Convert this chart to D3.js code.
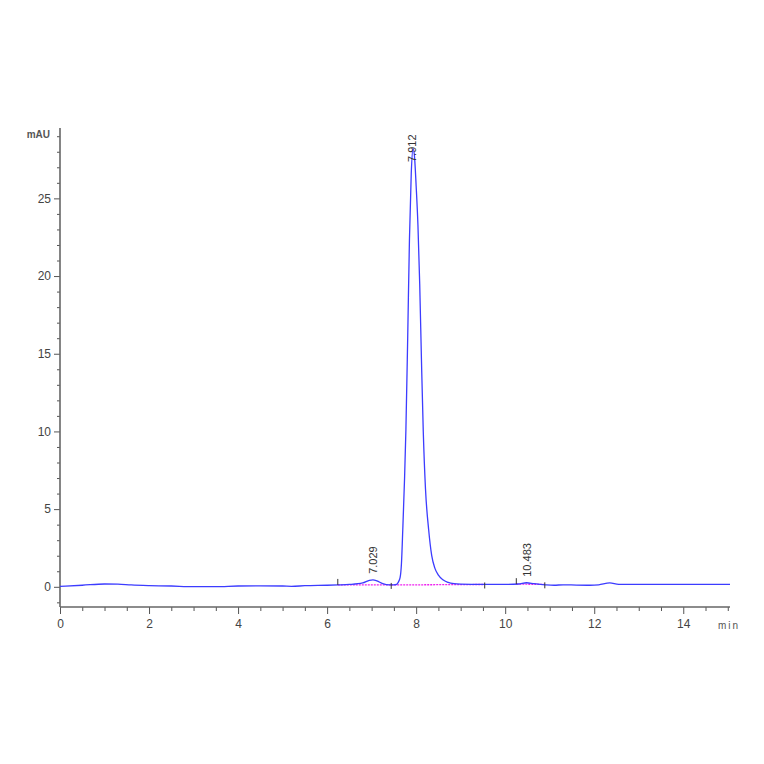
<!DOCTYPE html>
<html>
<head>
<meta charset="utf-8">
<script src="https://cdn.jsdelivr.net/npm/d3@7"></script>
<style>
  body { margin: 0; background: #fff; }
  .axis path, .axis line { stroke: #555; }
  .axis text { font-family: "Liberation Sans Narrow", "Liberation Sans", Arial, sans-serif; font-size: 12px; fill: #444; }
</style>
</head>
<body>
<div id="chart"></div>
<script>
// trace (min, mAU)
var times = [0, 0.5, 1.0, 1.3, 1.6, 2.0, 2.5, 3.0, 3.5, 4.0, 4.5, 5.0, 5.2, 5.5, 6.0, 6.25,
  6.5, 6.8, 6.95, 7.03, 7.12, 7.25, 7.4, 7.5, 7.56, 7.6, 7.64, 7.67, 7.70, 7.74, 7.77,
  7.81, 7.85, 7.89, 7.93, 7.96, 8.0, 8.04, 8.08, 8.12, 8.16, 8.21, 8.28, 8.35, 8.42,
  8.5, 8.6, 8.72, 8.85, 9.0, 9.5, 10.0, 10.3, 10.48, 10.65, 10.9, 11.1, 11.3, 11.6, 11.9,
  12.1, 12.35, 12.55, 12.8, 13.5, 14.0, 15.05];
var signal = [0.03, 0.1, 0.18, 0.17, 0.12, 0.08, 0.05, 0.01, 0.01, 0.05, 0.06, 0.05, 0.03, 0.07, 0.1, 0.12,
  0.15, 0.25, 0.42, 0.45, 0.38, 0.2, 0.12, 0.12, 0.15, 0.3, 0.6, 1.5, 3.7, 7.0, 10.1,
  16.0, 22.4, 26.6, 28.2, 27.8, 25.8, 23.3, 19.5, 14.5, 10.0, 6.3, 3.7, 2.0, 1.2,
  0.75, 0.45, 0.28, 0.2, 0.17, 0.15, 0.15, 0.18, 0.26, 0.2, 0.13, 0.1, 0.13, 0.11, 0.1,
  0.13, 0.25, 0.15, 0.15, 0.15, 0.15, 0.15];

var peakTimes = [7.029, 7.912, 10.483];
var peakLabels = ["7.029", "7.912", "10.483"];
var peakHeights = [0.45, 28.2, 0.26];

// integration baselines: start, end, level at start, level at end
var baseStart = [6.24, 7.44, 10.25];
var baseEnd = [7.44, 9.54, 10.89];
var baseFrom = [0.12, 0.12, 0.17];
var baseTo = [0.12, 0.15, 0.16];

var xMajor = [0, 2, 4, 6, 8, 10, 12, 14];
var yMajor = [0, 5, 10, 15, 20, 25];

var width = 764, height = 764;

var svg = d3.select("#chart")
  .append("svg")
  .attr("width", width)
  .attr("height", height);

var x = d3.scaleLinear().domain([0, 15.05]).range([60, 730]);
var y = d3.scaleLinear().domain([-1.3, 29.4]).range([607, 130]);

// minor ticks
var xMinor = d3.range(0, 15.01, 0.5).filter(function(d) { return xMajor.indexOf(d) < 0; });
var yMinor = d3.range(-1, 30, 1).filter(function(d) { return yMajor.indexOf(d) < 0; });

svg.append("g")
  .attr("class", "axis")
  .attr("transform", "translate(0,607)")
  .call(d3.axisBottom(x).tickValues(xMinor).tickSize(4).tickFormat(""))
  .call(function(g) { g.select(".domain").remove(); });

svg.append("g")
  .attr("class", "axis")
  .attr("transform", "translate(0,607)")
  .call(d3.axisBottom(x).tickValues(xMajor).tickSize(7).tickPadding(5).tickFormat(d3.format("d")))
  .call(function(g) { g.select(".domain").remove(); });

svg.append("g")
  .attr("class", "axis")
  .attr("transform", "translate(60,0)")
  .call(d3.axisLeft(y).tickValues(yMinor).tickSize(3).tickFormat(""))
  .call(function(g) { g.select(".domain").remove(); });

svg.append("g")
  .attr("class", "axis")
  .attr("transform", "translate(60,0)")
  .call(d3.axisLeft(y).tickValues(yMajor).tickSize(6).tickPadding(3).tickFormat(d3.format("d")))
  .call(function(g) { g.select(".domain").remove(); });

// axis lines
svg.append("line")
  .attr("x1", 60).attr("x2", 730)
  .attr("y1", 607).attr("y2", 607)
  .attr("stroke", "#666").attr("stroke-width", 1.6);
svg.append("line")
  .attr("x1", 60).attr("x2", 60)
  .attr("y1", 128).attr("y2", 607)
  .attr("stroke", "#666").attr("stroke-width", 1.6);

svg.append("text")
  .attr("x", 50).attr("y", 138)
  .attr("text-anchor", "end")
  .attr("font-family", "Liberation Sans Narrow, Liberation Sans, Arial, sans-serif")
  .attr("font-size", 10)
  .attr("font-weight", "bold")
  .attr("fill", "#555")
  .text("mAU");

svg.append("text")
  .attr("x", 718).attr("y", 629)
  .attr("font-family", "Liberation Sans Narrow, Liberation Sans, Arial, sans-serif")
  .attr("font-size", 10)
  .attr("letter-spacing", 2)
  .attr("fill", "#555")
  .text("min");

// integration baselines
baseStart.forEach(function(s, i) {
  svg.append("line")
    .attr("x1", x(s)).attr("x2", x(baseEnd[i]))
    .attr("y1", y(baseFrom[i])).attr("y2", y(baseTo[i]))
    .attr("stroke", "#ee22ee")
    .attr("stroke-width", 1.3)
    .attr("stroke-dasharray", "2,1");
});

// trace
var data = times.map(function(t, i) { return [t, signal[i]]; });
var line = d3.line()
  .x(function(d) { return x(d[0]); })
  .y(function(d) { return y(d[1]); })
  .curve(d3.curveMonotoneX);

svg.append("path")
  .datum(data)
  .attr("fill", "none")
  .attr("stroke", "#3c3cff")
  .attr("stroke-width", 1.3)
  .attr("d", line);

// integration marks
var marks = [6.24, 7.44, 9.54, 10.25, 10.89];
var markLevel = [0.12, 0.12, 0.15, 0.17, 0.16];
marks.forEach(function(m, i) {
  var up = (i === 0 || i === 3) ? -6 : -2;
  svg.append("line")
    .attr("x1", x(m)).attr("x2", x(m))
    .attr("y1", y(markLevel[i]) + up).attr("y2", y(markLevel[i]) + up + 6)
    .attr("stroke", "#333")
    .attr("stroke-width", 1);
});

// peak labels
peakTimes.forEach(function(t, i) {
  var ly = Math.max(y(peakHeights[i]) - 6, 162);
  svg.append("text")
    .attr("transform", "translate(" + (x(t) + 4) + "," + ly + ") rotate(-90)")
    .attr("font-family", "Liberation Sans, Arial, sans-serif")
    .attr("font-size", 11)
    .attr("fill", "#333")
    .text(peakLabels[i]);
});
</script>
</body>
</html>
